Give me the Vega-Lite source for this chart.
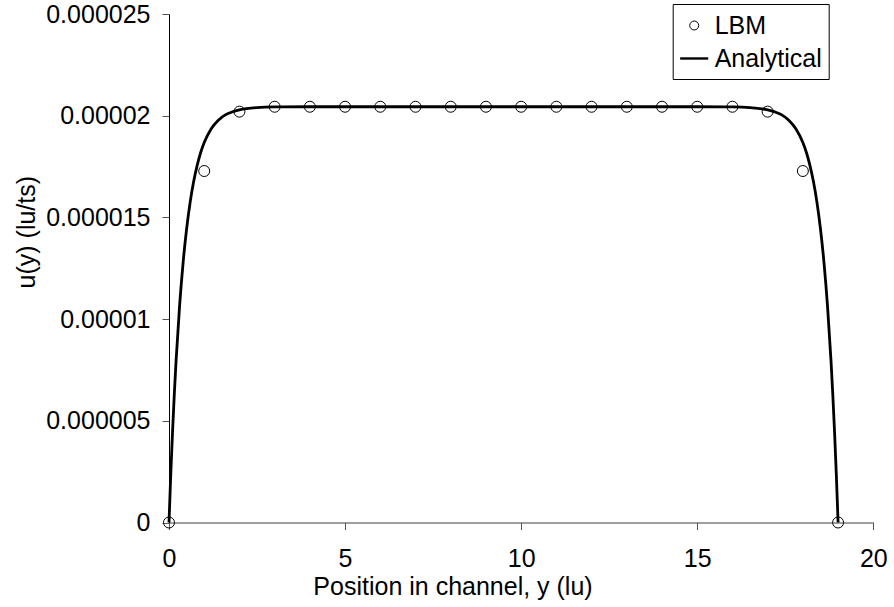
{
  "$schema": "https://vega.github.io/schema/vega-lite/v6.json",
  "width": 704.3,
  "height": 508.5,
  "autosize": {"type": "none"},
  "padding": {"left": 169, "top": 14, "right": 20.7, "bottom": 84.5},
  "background": "white",
  "config": {
    "view": {"stroke": null},
    "font": "Liberation Sans",
    "axis": {"grid": false, "labelFont": "Liberation Sans", "titleFont": "Liberation Sans", "labelColor": "black", "titleColor": "black", "titleFontWeight": "normal", "labelFontSize": 25, "titleFontSize": 25, "tickSize": 7, "tickColor": "#555555", "labelFlush": false, "labelOverlap": false}
  },
  "datasets": {
    "analytical": [
      {"y": 0, "u": 0},
      {"y": 0.05, "u": 2.36e-6},
      {"y": 0.1, "u": 4.44e-6},
      {"y": 0.15, "u": 6.29e-6},
      {"y": 0.2, "u": 7.92e-6},
      {"y": 0.3, "u": 10.64e-6},
      {"y": 0.4, "u": 12.77e-6},
      {"y": 0.5, "u": 14.43e-6},
      {"y": 0.6, "u": 15.74e-6},
      {"y": 0.7, "u": 16.76e-6},
      {"y": 0.8, "u": 17.56e-6},
      {"y": 0.9, "u": 18.19e-6},
      {"y": 1.0, "u": 18.68e-6},
      {"y": 1.2, "u": 19.36e-6},
      {"y": 1.4, "u": 19.78e-6},
      {"y": 1.6, "u": 20.04e-6},
      {"y": 1.8, "u": 20.19e-6},
      {"y": 2.0, "u": 20.29e-6},
      {"y": 2.5, "u": 20.40e-6},
      {"y": 3.0, "u": 20.43e-6},
      {"y": 4.0, "u": 20.44e-6},
      {"y": 9.5, "u": 20.44e-6},
      {"y": 15.0, "u": 20.44e-6},
      {"y": 16.0, "u": 20.43e-6},
      {"y": 16.5, "u": 20.40e-6},
      {"y": 17.0, "u": 20.29e-6},
      {"y": 17.2, "u": 20.19e-6},
      {"y": 17.4, "u": 20.04e-6},
      {"y": 17.6, "u": 19.78e-6},
      {"y": 17.8, "u": 19.36e-6},
      {"y": 18.0, "u": 18.68e-6},
      {"y": 18.1, "u": 18.19e-6},
      {"y": 18.2, "u": 17.56e-6},
      {"y": 18.3, "u": 16.76e-6},
      {"y": 18.4, "u": 15.74e-6},
      {"y": 18.5, "u": 14.43e-6},
      {"y": 18.6, "u": 12.77e-6},
      {"y": 18.7, "u": 10.64e-6},
      {"y": 18.8, "u": 7.92e-6},
      {"y": 18.85, "u": 6.29e-6},
      {"y": 18.9, "u": 4.44e-6},
      {"y": 18.95, "u": 2.36e-6},
      {"y": 19.0, "u": 0}
    ],
    "lbm": [
      {"y": 0, "u": 0, "series": "LBM"},
      {"y": 1, "u": 17.28e-6, "series": "LBM"},
      {"y": 2, "u": 20.2e-6, "series": "LBM"},
      {"y": 3, "u": 20.44e-6, "series": "LBM"},
      {"y": 4, "u": 20.44e-6, "series": "LBM"},
      {"y": 5, "u": 20.44e-6, "series": "LBM"},
      {"y": 6, "u": 20.44e-6, "series": "LBM"},
      {"y": 7, "u": 20.44e-6, "series": "LBM"},
      {"y": 8, "u": 20.44e-6, "series": "LBM"},
      {"y": 9, "u": 20.44e-6, "series": "LBM"},
      {"y": 10, "u": 20.44e-6, "series": "LBM"},
      {"y": 11, "u": 20.44e-6, "series": "LBM"},
      {"y": 12, "u": 20.44e-6, "series": "LBM"},
      {"y": 13, "u": 20.44e-6, "series": "LBM"},
      {"y": 14, "u": 20.44e-6, "series": "LBM"},
      {"y": 15, "u": 20.44e-6, "series": "LBM"},
      {"y": 16, "u": 20.44e-6, "series": "LBM"},
      {"y": 17, "u": 20.2e-6, "series": "LBM"},
      {"y": 18, "u": 17.28e-6, "series": "LBM"},
      {"y": 19, "u": 0, "series": "LBM"}
    ]
  },
  "encoding": {
    "x": {
      "field": "y", "type": "quantitative",
      "scale": {"domain": [0, 20], "nice": false, "zero": false},
      "axis": {"values": [0, 5, 10, 15, 20], "domainColor": "#404040", "labelPadding": 17, "title": "Position in channel, y (lu)", "titleX": 283.5, "titleY": 71.5, "titleBaseline": "alphabetic", "titleAlign": "center", "titleAnchor": "start"}
    },
    "y": {
      "field": "u", "type": "quantitative",
      "scale": {"domain": [0, 0.000025], "nice": false},
      "axis": {"values": [0, 0.000005, 0.00001, 0.000015, 0.00002, 0.000025], "labelExpr": "datum.value == 0 ? '0' : format(datum.value, '.6~f')", "domainColor": "#000000", "labelPadding": 12, "title": "u(y) (lu/ts)", "titleX": -135, "titleY": 217.7, "titleAngle": -90, "titleBaseline": "alphabetic", "titleAlign": "center", "titleAnchor": "start"}
    }
  },
  "layer": [
    {
      "data": {"name": "analytical"},
      "mark": {"type": "line", "color": "black", "strokeWidth": 2.8, "interpolate": "monotone"}
    },
    {
      "data": {"name": "lbm"},
      "mark": {"type": "point", "filled": false, "color": "black", "strokeWidth": 1, "size": 1182, "opacity": 1},
      "encoding": {
        "shape": {
          "field": "series", "type": "nominal",
          "scale": {"domain": ["LBM", "Analytical"], "range": ["M-0.32,0A0.32,0.32,0,1,1,0.32,0A0.32,0.32,0,1,1,-0.32,0Z", "M-1,-0.05H1M-1,0H1M-1,0.05H1"]},
          "legend": {
            "title": null, "orient": "none", "legendX": 503.7, "legendY": -10,
            "labelFontSize": 25, "labelFont": "Liberation Sans", "labelColor": "black",
            "symbolSize": 784, "symbolStrokeColor": "black", "symbolFillColor": "white", "symbolStrokeWidth": 1,
            "padding": 7, "rowPadding": 5, "labelOffset": 6,
            "strokeColor": "black", "fillColor": "white",
            "encode": {"symbols": {"update": {"size": {"value": 784}, "stroke": {"value": "black"}}}}
          }
        }
      }
    }
  ]
}
